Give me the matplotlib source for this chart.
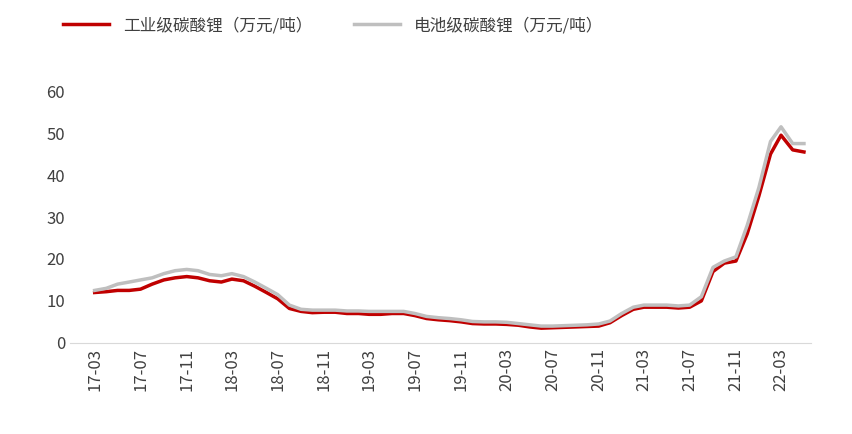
import matplotlib
matplotlib.use("Agg")
import matplotlib.pyplot as plt
import pandas as pd

plt.rcParams['font.family'] = ['Noto Sans CJK SC', 'DejaVu Sans']

months = pd.date_range("2017-03-01", "2022-05-01", freq="MS")
industrial = [12, 12.2, 12.5, 12.5, 12.8, 14, 15, 15.5, 15.8, 15.5,
              14.8, 14.5, 15.2, 14.8, 13.5, 12, 10.5, 8.2, 7.5, 7.2, 7.3, 7.3,
              7.0, 7.0, 6.8, 6.8, 7.0, 7.0, 6.5, 5.8, 5.5, 5.3, 5.0, 4.6,
              4.5, 4.5, 4.4, 4.2, 3.8, 3.5, 3.6, 3.7, 3.8, 3.9, 4.0, 4.8,
              6.5, 8.0, 8.5, 8.5, 8.5, 8.3, 8.5, 10, 17, 19, 19.5, 26,
              35, 45, 49.5, 46, 45.5]
battery = [12.5, 13, 14, 14.5, 15, 15.5, 16.5, 17.2, 17.5, 17.2,
           16.3, 16, 16.5, 15.8, 14.5, 13, 11.5, 9, 8, 7.8, 7.8, 7.8,
           7.6, 7.6, 7.5, 7.5, 7.5, 7.5, 7.0, 6.3, 6.0, 5.8, 5.5, 5.1,
           5.0, 5.0, 4.9, 4.6, 4.3, 4.0, 4.0, 4.1, 4.2, 4.3, 4.5, 5.2,
           7.0, 8.5, 9.0, 9.0, 9.0, 8.8, 9.0, 11, 18, 19.5, 20.5, 28,
           37, 48, 51.5, 47.5, 47.5]
labels = ["工业级碳酸锂（万元/吨）", "电池级碳酸锂（万元/吨）"]

fig = plt.figure(figsize=(8.52, 4.34), dpi=100)
ax = fig.add_axes([0.082, 0.21, 0.87, 0.58])
ax.plot(months, industrial, color="#c00000", lw=2.5, label=labels[0])
ax.plot(months, battery, color="#bfbfbf", lw=2.5, label=labels[1])
ax.set_ylim(0, 60)
ax.set_yticks(range(0, 61, 10))
ticks = pd.date_range("2017-03-01", "2022-03-01", freq="4MS")
ax.set_xticks(ticks)
ax.set_xticklabels([t.strftime("%y-%m") for t in ticks], rotation=90)
ax.set_xlim(pd.Timestamp("2016-12-25"), pd.Timestamp("2022-05-20"))
for s in ["top", "right", "left"]:
    ax.spines[s].set_visible(False)
ax.spines["bottom"].set_color("#d9d9d9")
ax.tick_params(axis="y", length=0, labelsize=12, colors="#404040")
ax.tick_params(axis="x", length=0, labelsize=12, colors="#404040")
ax.legend(loc="center left", bbox_to_anchor=(-0.03, 1.26), ncol=2, frameon=False,
          fontsize=12, handlelength=2.8, columnspacing=2.5, labelcolor="#404040")
fig.savefig("out.png")
